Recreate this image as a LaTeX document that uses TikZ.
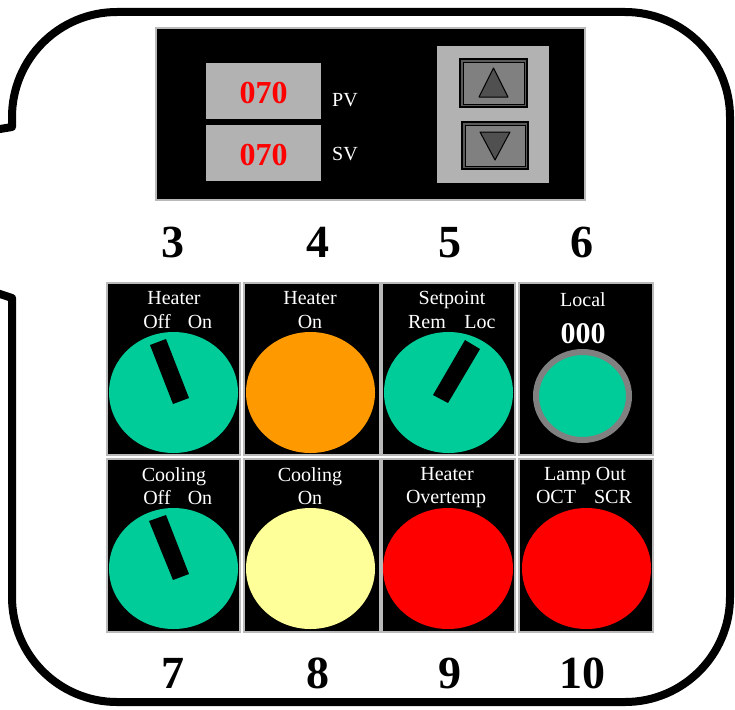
\documentclass[tikz,border=0pt]{standalone}
\usepackage{fontspec}
\setmainfont{Liberation Serif}
\definecolor{knobgreen}{HTML}{00CC99}
\definecolor{lamporange}{HTML}{FF9900}
\definecolor{lampyellow}{HTML}{FFFF99}
\definecolor{lampred}{HTML}{FF0000}
\definecolor{facegray}{HTML}{B2B2B2}
\definecolor{btngray}{HTML}{808080}
\definecolor{btndark}{HTML}{5A5A5A}
\definecolor{tridark}{HTML}{505050}
\begin{document}
\begin{tikzpicture}[x=1pt,y=-1pt,
  lbl/.style={text=white,font=\fontsize{20}{20}\selectfont,anchor=base,inner sep=0pt},
  bignum/.style={font=\fontsize{46}{46}\selectfont\bfseries,anchor=base,inner sep=0pt},
  readout/.style={text=lampred,font=\fontsize{32}{32}\selectfont\bfseries,anchor=base,inner sep=0pt},
  panelbox/.style={fill=black,draw=gray!55,line width=1.2pt},
  graybox/.style={fill=facegray},
  btnouter/.style={fill=btndark,draw=black,line width=1.6pt},
  btninner/.style={fill=btngray,draw=black,line width=0.7pt},
  tri/.style={fill=tridark,draw=black,line width=1pt,line join=round},
  bar/.style={fill=black}
]
\useasboundingbox (0,0) rectangle (735,709);
% outline
\draw[line width=8pt,line join=round]
  (-12,131) -- (12,127) -- (12,117) arc[start angle=180,end angle=90,radius=105pt]
  -- (625,12) arc[start angle=90,end angle=0,radius=105pt]
  -- (730,597) arc[start angle=0,end angle=-90,radius=105pt]
  -- (117,702) arc[start angle=-90,end angle=-180,radius=105pt]
  -- (12,298) -- (-12,290);
% display panel
\draw[panelbox] (156,28) rectangle (585,200);
\fill[graybox] (206,63) rectangle (321,119);
\fill[graybox] (206,125) rectangle (321,181);
\node[readout] (pv) at (263.5,103) {070};
\node[readout] (sv) at (263.5,165) {070};
\node[lbl,anchor=base west] (pvl) at (332,106) {PV};
\node[lbl,anchor=base west] (svl) at (332,160) {SV};
\fill[graybox] (437,46) rectangle (549,183);
\draw[btnouter] (460,59) rectangle (527,107);
\draw[btninner] (463,62) rectangle (524,104);
\draw[tri] (479,97) -- (508,97) -- (493.5,68) -- cycle;
\draw[btnouter] (462,122) rectangle (528,169);
\draw[btninner] (465,125) rectangle (525,166);
\draw[tri] (480,132) -- (510,132) -- (495,160) -- cycle;
% numbers
\node[bignum] (n3) at (173,257) {3};
\node[bignum] (n4) at (318,257) {4};
\node[bignum] (n5) at (450,257) {5};
\node[bignum] (n6) at (582,257) {6};
\node[bignum] (n7) at (173,688) {7};
\node[bignum] (n8) at (318,688) {8};
\node[bignum] (n9) at (450,688) {9};
\node[bignum] (n10) at (582,688) {10};
% panels row 1
\draw[panelbox] (107,283) rectangle (240,455);
\draw[panelbox] (244,283) rectangle (380,455);
\draw[panelbox] (382,283) rectangle (515,455);
\draw[panelbox] (519,283) rectangle (653,455);
% panels row 2
\draw[panelbox] (107,459) rectangle (240,632);
\draw[panelbox] (244,459) rectangle (380,632);
\draw[panelbox] (382,459) rectangle (515,632);
\draw[panelbox] (519,459) rectangle (653,632);
% panel 3: heater switch
\node[lbl] (h1) at (174,304) {Heater};
\node[lbl] (h1off) at (157,328) {Off};
\node[lbl] (h1on) at (200,328) {On};
\fill[knobgreen] (173.5,392.5) ellipse [x radius=64.5pt,y radius=60.5pt];
\fill[bar] (150,345) -- (166,339) -- (189,398) -- (173,404) -- cycle;
% panel 4: heater on lamp
\node[lbl] (h2) at (310,304) {Heater};
\node[lbl] (h2on) at (310,328) {On};
\fill[lamporange] (310.5,392.5) ellipse [x radius=64.5pt,y radius=60.5pt];
% panel 5: setpoint switch
\node[lbl] (sp) at (452,304) {Setpoint};
\node[lbl] (rem) at (427,328) {Rem};
\node[lbl] (loc) at (480,328) {Loc};
\fill[knobgreen] (448.5,392.5) ellipse [x radius=64.5pt,y radius=60.5pt];
\fill[bar] (465,340) -- (480,349) -- (448,403) -- (433,395) -- cycle;
% panel 6: local
\node[lbl] (local) at (583,306) {Local};
\node[text=white,font=\fontsize{30}{30}\selectfont\bfseries,anchor=base,inner sep=0pt] (zero) at (583,343) {000};
\draw[fill=knobgreen,draw=btngray,line width=6pt] (582.5,396) ellipse [x radius=46.5pt,y radius=44pt];
% panel 7: cooling switch
\node[lbl] (c1) at (174,481) {Cooling};
\node[lbl] (c1off) at (157,504) {Off};
\node[lbl] (c1on) at (200,504) {On};
\fill[knobgreen] (173.5,568.5) ellipse [x radius=64.5pt,y radius=60.5pt];
\fill[bar] (149,521) -- (166,515) -- (189,574) -- (173,580) -- cycle;
% panel 8: cooling on lamp
\node[lbl] (c2) at (310,481) {Cooling};
\node[lbl] (c2on) at (310,504) {On};
\fill[lampyellow] (310.5,568.5) ellipse [x radius=64.5pt,y radius=60.5pt];
% panel 9: heater overtemp
\node[lbl] (ho) at (447,480) {Heater};
\node[lbl] (ot) at (446,503) {Overtemp};
\fill[lampred] (448,568.5) ellipse [x radius=65pt,y radius=60.5pt];
% panel 10: lamp out
\node[lbl] (lo) at (585,480) {Lamp Out};
\node[lbl] (oct) at (556,503) {OCT};
\node[lbl] (scr) at (613,503) {SCR};
\fill[lampred] (586.5,568.5) ellipse [x radius=64.5pt,y radius=60.5pt];
\end{tikzpicture}
\end{document}
